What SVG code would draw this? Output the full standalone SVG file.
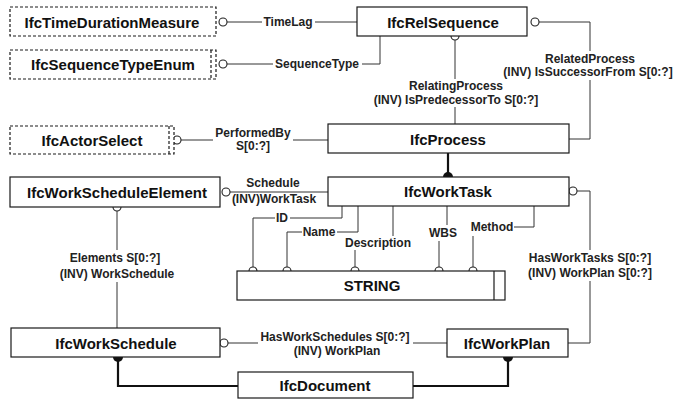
<svg xmlns="http://www.w3.org/2000/svg" width="677" height="403" viewBox="0 0 677 403">
<style>
.box{fill:#fff;stroke:#1a1a1a;stroke-width:1.2}
.dbox{fill:#fff;stroke:#1a1a1a;stroke-width:1.2;stroke-dasharray:3 2}
.dl{fill:none;stroke:#1a1a1a;stroke-width:1.2;stroke-dasharray:3 2}
.sl{fill:none;stroke:#1a1a1a;stroke-width:1.2}
.nt{font-family:"Liberation Sans",Arial,sans-serif;font-size:15px;font-weight:bold;fill:#111;text-anchor:middle;dominant-baseline:central}
.lt{font-family:"Liberation Sans",Arial,sans-serif;font-size:12px;font-weight:bold;fill:#222;text-anchor:middle;dominant-baseline:central}
.ln{fill:none;stroke:#333;stroke-width:1}
.th{fill:none;stroke:#111;stroke-width:2.2}
.oc{fill:none;stroke:#222;stroke-width:1.1}
.dot{fill:#111}
</style>
<rect width="677" height="403" fill="#fff"/>
<g id="connectors">
<!-- TimeLag -->
<path class="ln" d="M227 22H262M315 22H357"/>
<circle class="oc" cx="223" cy="22" r="4"/>
<text class="lt" x="288" y="22">TimeLag</text>
<!-- SequenceType -->
<path class="ln" d="M227 64H273M362 64H380V36"/>
<circle class="oc" cx="223" cy="64" r="4"/>
<text class="lt" x="317" y="64">SequenceType</text>
<!-- RelatedProcess -->
<path class="ln" d="M539 22H590V51M590 80V139H569"/>
<circle class="oc" cx="535" cy="22" r="4"/>
<text class="lt" x="590" y="59">RelatedProcess</text>
<text class="lt" x="588" y="72">(INV) IsSuccessorFrom S[0:?]</text>
<!-- RelatingProcess -->
<path class="ln" d="M455 40V79M455 107V124"/>
<circle class="oc" cx="455" cy="36" r="4"/>
<text class="lt" x="456" y="86">RelatingProcess</text>
<text class="lt" x="456" y="100">(INV) IsPredecessorTo S[0:?]</text>
<!-- PerformedBy -->
<path class="ln" d="M181 140H213M293 140H328"/>
<circle class="oc" cx="177" cy="140" r="4"/>
<text class="lt" x="253" y="133">PerformedBy</text>
<text class="lt" x="253" y="146">S[0:?]</text>
<!-- Supertype IfcProcess -> IfcWorkTask -->
<path class="th" d="M448 153V173"/>
<circle class="dot" cx="448" cy="177" r="5"/>
<!-- Schedule -->
<path class="ln" d="M230 192H328"/>
<circle class="oc" cx="226" cy="192" r="4"/>
<text class="lt" x="273" y="183">Schedule</text>
<text class="lt" x="274" y="199">(INV)WorkTask</text>
<!-- Elements -->
<path class="ln" d="M117 211V250M117 282V328"/>
<circle class="oc" cx="117" cy="207" r="4"/>
<text class="lt" x="115" y="258">Elements S[0:?]</text>
<text class="lt" x="117" y="274">(INV) WorkSchedule</text>
<!-- ID -->
<path class="ln" d="M253 267V218H275M290 218H342V206"/>
<circle class="oc" cx="253" cy="271" r="4"/>
<text class="lt" x="282" y="218">ID</text>
<!-- Name -->
<path class="ln" d="M287 267V232H302M337 232H358V206"/>
<circle class="oc" cx="287" cy="271" r="4"/>
<text class="lt" x="319" y="232">Name</text>
<!-- Description -->
<path class="ln" d="M393 206V236M355 250V267"/>
<circle class="oc" cx="355" cy="271" r="4"/>
<text class="lt" x="378" y="243">Description</text>
<!-- WBS -->
<path class="ln" d="M447 206V225M439 241V267"/>
<circle class="oc" cx="439" cy="271" r="4"/>
<text class="lt" x="443" y="233">WBS</text>
<!-- Method -->
<path class="ln" d="M514 227H534V206M473 236V267"/>
<circle class="oc" cx="473" cy="271" r="4"/>
<text class="lt" x="492" y="227">Method</text>
<!-- HasWorkTasks -->
<path class="ln" d="M577 191H590V250M590 281V343H568"/>
<circle class="oc" cx="573" cy="191" r="4"/>
<text class="lt" x="590" y="258">HasWorkTasks S[0:?]</text>
<text class="lt" x="590" y="273">(INV) WorkPlan S[0:?]</text>
<!-- HasWorkSchedules -->
<path class="ln" d="M228 343H258M413 343H447"/>
<circle class="oc" cx="224" cy="343" r="4"/>
<text class="lt" x="335" y="337">HasWorkSchedules S[0:?]</text>
<text class="lt" x="337" y="351">(INV) WorkPlan</text>
<!-- IfcDocument supertype -->
<path class="th" d="M118 361V386H238M413 386H508V361"/>
<circle class="dot" cx="118" cy="357" r="5"/>
<circle class="dot" cx="508" cy="357" r="5"/>
</g>
<g id="IfcTimeDurationMeasure">
<rect class="dbox" x="10" y="7" width="206" height="29"/>
<text class="nt" x="112" y="22">IfcTimeDurationMeasure</text>
</g>
<g id="IfcRelSequence">
<rect class="box" x="357" y="7" width="170" height="29"/>
<text class="nt" x="443" y="22">IfcRelSequence</text>
</g>
<g id="IfcSequenceTypeEnum">
<rect class="dbox" x="10" y="50" width="206" height="29"/>
<path class="dl" d="M211 50V79"/>
<text class="nt" x="113" y="64">IfcSequenceTypeEnum</text>
</g>
<g id="IfcActorSelect">
<rect class="dbox" x="10" y="126" width="164" height="28"/>
<path class="dl" d="M169 126V154"/>
<text class="nt" x="92" y="140">IfcActorSelect</text>
</g>
<g id="IfcProcess">
<rect class="box" x="328" y="124" width="241" height="29"/>
<text class="nt" x="448" y="139">IfcProcess</text>
</g>
<g id="IfcWorkScheduleElement">
<rect class="box" x="10" y="177" width="210" height="30"/>
<text class="nt" x="117" y="192">IfcWorkScheduleElement</text>
</g>
<g id="IfcWorkTask">
<rect class="box" x="328" y="177" width="241" height="29"/>
<text class="nt" x="448" y="191">IfcWorkTask</text>
</g>
<g id="STRING">
<rect class="box" x="237" y="271" width="268" height="29"/>
<path class="sl" d="M494 271V300"/>
<text class="nt" x="372" y="285">STRING</text>
</g>
<g id="IfcWorkSchedule">
<rect class="box" x="11" y="328" width="209" height="29"/>
<text class="nt" x="116" y="343">IfcWorkSchedule</text>
</g>
<g id="IfcWorkPlan">
<rect class="box" x="447" y="329" width="121" height="28"/>
<text class="nt" x="507" y="343">IfcWorkPlan</text>
</g>
<g id="IfcDocument">
<rect class="box" x="238" y="372" width="175" height="26"/>
<text class="nt" x="325" y="385">IfcDocument</text>
</g>
</svg>
